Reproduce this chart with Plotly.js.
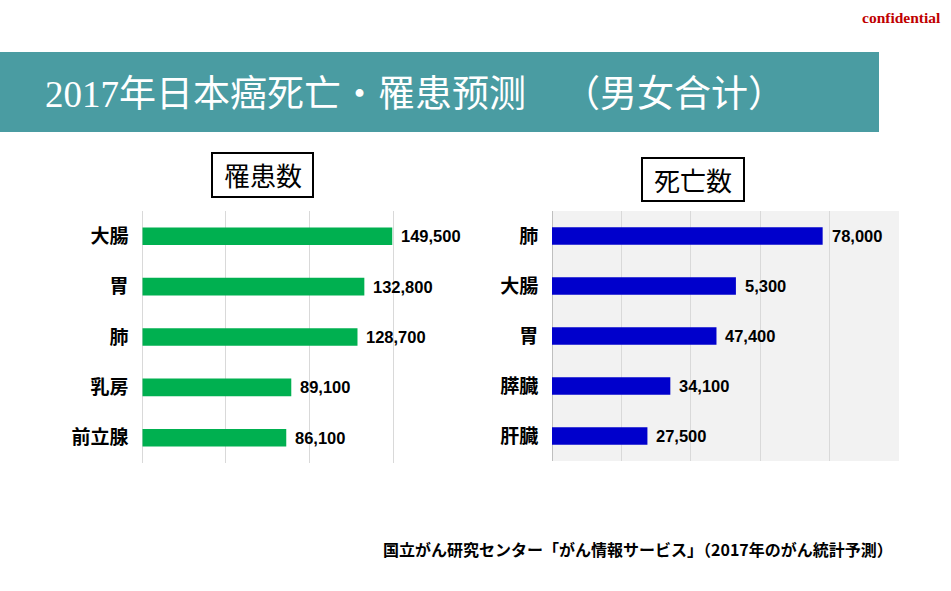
<!DOCTYPE html>
<html>
<head>
<meta charset="utf-8">
<script src="https://cdn.plot.ly/plotly-3.0.1.min.js"></script>
<style>
html,body{margin:0;padding:0;background:#fff;}
#chart{width:951px;height:591px;}
</style>
</head>
<body>
<div id="chart"></div>
<script>
// ---- data ----
const incidenceCategories = ["大腸", "胃", "肺", "乳房", "前立腺"];
const incidenceValues = [149500, 132800, 128700, 89100, 86100];
const incidenceLabels = ["149,500", "132,800", "128,700", "89,100", "86,100"];

const deathCategories = ["肺", "大腸", "胃", "膵臓", "肝臓"];
const deathValues = [78000, 53000, 47400, 34100, 27500];
const deathLabels = ["78,000", "5,300", "47,400", "34,100", "27,500"];

const titleText = "2017年日本癌死亡・罹患预测\u00a0\u00a0　（男女合计）";
const leftTitle = "罹患数";
const rightTitle = "死亡数";
const sourceText = "国立がん研究センター「がん情報サービス」（2017年のがん統計予測）";
const confText = "confidential";

const W = 951, H = 591;
const px = x => x / W;
const py = y => 1 - y / H;

const jp = "'Noto Sans CJK JP', 'Noto Sans', sans-serif";
const numFont = "'Liberation Sans', Arial, sans-serif";

const traces = [
  {
    type: "bar", orientation: "h",
    x: incidenceValues, y: incidenceCategories,
    xaxis: "x", yaxis: "y",
    marker: {color: "#00B050"},
    hoverinfo: "none"
  },
  {
    type: "bar", orientation: "h",
    x: deathValues, y: deathCategories,
    xaxis: "x2", yaxis: "y2",
    marker: {color: "#0000CC"},
    hoverinfo: "none"
  }
];

const yCommon = {
  type: "category",
  range: [4.5, -0.5],
  showgrid: false, zeroline: false, showline: false,
  ticks: "outside", ticklen: 9, tickcolor: "rgba(0,0,0,0)",
  tickfont: {family: jp, size: 19, color: "#000", weight: 700},
  fixedrange: true
};

function valueAnnots(vals, cats, labels, xr, yr) {
  return vals.map((v, i) => ({
    text: labels[i], x: v, y: cats[i], xref: xr, yref: yr,
    xanchor: "left", yanchor: "middle", xshift: 7, showarrow: false,
    font: {family: numFont, size: 16.5, color: "#000", weight: 700}
  }));
}

const layout = {
  width: W, height: H,
  margin: {l: 0, r: 0, t: 0, b: 0},
  paper_bgcolor: "#fff", plot_bgcolor: "rgba(0,0,0,0)",
  showlegend: false,
  bargap: 0.65,
  xaxis: {
    domain: [px(142.3), px(476.7)], anchor: "y",
    range: [0, 200000], dtick: 50000,
    showticklabels: false, showgrid: true, gridcolor: "#D9D9D9", gridwidth: 1,
    zeroline: true, zerolinecolor: "#D9D9D9", zerolinewidth: 1, showline: false,
    fixedrange: true
  },
  yaxis: Object.assign({}, yCommon, {domain: [py(463), py(211)], anchor: "x"}),
  xaxis2: {
    domain: [px(552), px(899)], anchor: "y2",
    range: [0, 100000], dtick: 20000,
    showticklabels: false, showgrid: true, gridcolor: "#D9D9D9", gridwidth: 1,
    zeroline: true, zerolinecolor: "#BFBFBF", zerolinewidth: 1, showline: false,
    fixedrange: true
  },
  yaxis2: Object.assign({}, yCommon, {domain: [py(461), py(211)], anchor: "x2"}),
  shapes: [
    {type: "rect", xref: "paper", yref: "paper", x0: 0, x1: px(879), y0: py(132), y1: py(52),
     fillcolor: "#4A9CA2", line: {width: 0}, layer: "below"},
    {type: "rect", xref: "x2 domain", yref: "y2 domain", x0: 0, x1: 1, y0: 0, y1: 1,
     fillcolor: "#F2F2F2", line: {width: 0}, layer: "below"},
    {type: "rect", xref: "paper", yref: "paper", x0: px(212), x1: px(313), y0: py(197), y1: py(153),
     fillcolor: "rgba(0,0,0,0)", line: {color: "#000", width: 2}},
    {type: "rect", xref: "paper", yref: "paper", x0: px(642), x1: px(744), y0: py(201), y1: py(158),
     fillcolor: "rgba(0,0,0,0)", line: {color: "#000", width: 2}}
  ],
  annotations: [
    {text: titleText, xref: "paper", yref: "paper", x: px(43), y: py(95), xanchor: "left", yanchor: "middle",
     showarrow: false, font: {family: "'Liberation Serif', 'Noto Sans CJK SC', serif", size: 37, color: "#fff"}},
    {text: leftTitle, xref: "paper", yref: "paper", x: px(262.5), y: py(175), xanchor: "center", yanchor: "middle",
     showarrow: false, font: {family: jp, size: 26, color: "#000"}},
    {text: rightTitle, xref: "paper", yref: "paper", x: px(693), y: py(179.5), xanchor: "center", yanchor: "middle",
     showarrow: false, font: {family: jp, size: 26, color: "#000"}},
    {text: sourceText, xref: "paper", yref: "paper", x: px(381), y: py(549), xanchor: "left", yanchor: "middle",
     showarrow: false, font: {family: jp, size: 16, color: "#000", weight: 700}},
    {text: confText, xref: "paper", yref: "paper", x: px(943), y: py(17), xanchor: "right", yanchor: "middle",
     showarrow: false, font: {family: "'Liberation Serif', serif", size: 15.5, color: "#C00000", weight: 700}}
  ].concat(
    valueAnnots(incidenceValues, incidenceCategories, incidenceLabels, "x", "y"),
    valueAnnots(deathValues, deathCategories, deathLabels, "x2", "y2")
  )
};

Plotly.newPlot("chart", traces, layout, {displayModeBar: false, staticPlot: true});
</script>
</body>
</html>
